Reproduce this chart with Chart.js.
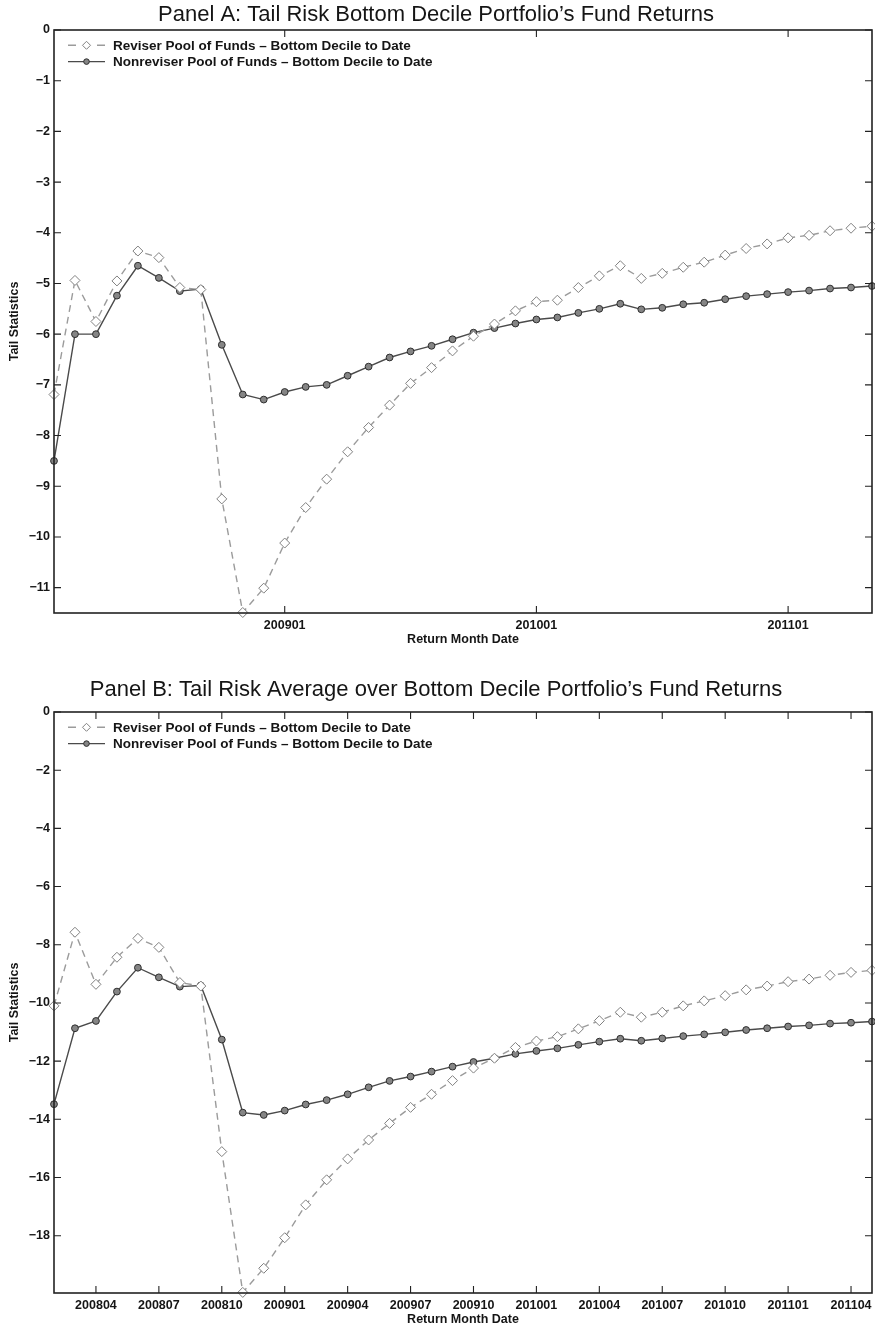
<!DOCTYPE html>
<html lang="en">
<head>
<meta charset="UTF-8">
<title>Tail Risk Bottom Decile Portfolio's Fund Returns</title>
<script src="https://cdn.jsdelivr.net/npm/chart.js"></script>
<style>
    body { margin: 0; background: #fff; overflow: hidden; }
    .panel { position: absolute; left: 0; width: 875px; }
    #panelA { top: 0; height: 655px; }
    #panelB { top: 663px; height: 672px; }
</style>
</head>
<body>

<div class="panel" id="panelA"><canvas id="chartA"></canvas></div>
<div class="panel" id="panelB"><canvas id="chartB"></canvas></div>

<script>
// return months (x categories)
const months = [
    '200802', '200803', '200804', '200805', '200806', '200807', '200808', '200809', '200810', '200811', '200812',
    '200901', '200902', '200903', '200904', '200905', '200906', '200907', '200908', '200909', '200910', '200911', '200912',
    '201001', '201002', '201003', '201004', '201005', '201006', '201007', '201008', '201009', '201010', '201011', '201012',
    '201101', '201102', '201103', '201104', '201105'
];

// Panel A: tail risk of bottom decile portfolio
const reviserA = [-7.19, -4.94, -5.75, -4.95, -4.36, -4.49, -5.08, -5.12, -9.25, -11.49, -11.01,
    -10.12, -9.42, -8.86, -8.32, -7.84, -7.40, -6.97, -6.66, -6.33, -6.04, -5.80, -5.54,
    -5.36, -5.33, -5.08, -4.85, -4.65, -4.90, -4.80, -4.68, -4.58, -4.44, -4.31, -4.22,
    -4.10, -4.05, -3.96, -3.91, -3.87];
const nonreviserA = [-8.50, -6.00, -6.00, -5.24, -4.65, -4.89, -5.15, -5.11, -6.21, -7.19, -7.29,
    -7.14, -7.04, -7.00, -6.82, -6.64, -6.46, -6.34, -6.23, -6.10, -5.97, -5.88, -5.79,
    -5.71, -5.67, -5.58, -5.50, -5.40, -5.51, -5.48, -5.41, -5.38, -5.31, -5.25, -5.21,
    -5.17, -5.14, -5.10, -5.08, -5.05];

// Panel B: tail risk average over bottom decile
const reviserB = [-10.10, -7.57, -9.36, -8.43, -7.78, -8.09, -9.30, -9.42, -15.11, -19.95, -19.12,
    -18.07, -16.94, -16.08, -15.36, -14.71, -14.14, -13.59, -13.14, -12.67, -12.24, -11.90, -11.53,
    -11.31, -11.16, -10.89, -10.61, -10.32, -10.49, -10.32, -10.10, -9.93, -9.75, -9.55, -9.42,
    -9.27, -9.18, -9.05, -8.95, -8.88];
const nonreviserB = [-13.48, -10.87, -10.62, -9.61, -8.79, -9.12, -9.44, -9.40, -11.26, -13.77, -13.85,
    -13.70, -13.49, -13.34, -13.14, -12.90, -12.68, -12.53, -12.36, -12.19, -12.03, -11.90, -11.75,
    -11.65, -11.56, -11.44, -11.33, -11.23, -11.30, -11.22, -11.14, -11.08, -11.01, -10.93, -10.87,
    -10.81, -10.77, -10.71, -10.68, -10.64];

// tick labels
const xTicksA = ['200901', '201001', '201101'];
const xTicksB = ['200804', '200807', '200810', '200901', '200904', '200907', '200910',
    '201001', '201004', '201007', '201010', '201101', '201104'];
const yTicksA = [0, -1, -2, -3, -4, -5, -6, -7, -8, -9, -10, -11];
const yTicksB = [0, -2, -4, -6, -8, -10, -12, -14, -16, -18];

const FONT = '"Liberation Sans", Arial, Helvetica, sans-serif';
const INK = '#151515';

// box round the plot with inward ticks on all four sides (matlab look)
const frameAndTicks = {
    id: 'frameAndTicks',
    afterDraw(chart) {
        const { ctx, chartArea: a, scales: { x, y } } = chart;
        ctx.save();
        ctx.strokeStyle = '#222';
        ctx.lineWidth = 1.6;
        ctx.strokeRect(a.left, a.top, a.right - a.left, a.bottom - a.top);
        ctx.lineWidth = 1.1;
        ctx.beginPath();
        x.ticks.forEach(t => {
            const px = x.getPixelForValue(t.value);
            ctx.moveTo(px, a.bottom); ctx.lineTo(px, a.bottom - 7);
            ctx.moveTo(px, a.top); ctx.lineTo(px, a.top + 7);
        });
        y.ticks.forEach(t => {
            const py = y.getPixelForValue(t.value);
            ctx.moveTo(a.left, py); ctx.lineTo(a.left + 7, py);
            ctx.moveTo(a.right, py); ctx.lineTo(a.right - 7, py);
        });
        ctx.stroke();
        ctx.restore();
    }
};

// legend inside the plot, top left, line sample + marker
const insideLegend = {
    id: 'insideLegend',
    afterDraw(chart) {
        const { ctx, chartArea: a } = chart;
        ctx.save();
        ctx.font = 'bold 13.5px ' + FONT;
        ctx.textBaseline = 'middle';
        chart.data.datasets.forEach((ds, i) => {
            const yy = a.top + 15.3 + i * 16.3;
            const x0 = a.left + 14, x1 = a.left + 51, xm = (x0 + x1) / 2;
            ctx.strokeStyle = ds.borderColor;
            ctx.lineWidth = ds.borderWidth;
            ctx.beginPath();
            if (ds.borderDash) {
                ctx.moveTo(x0, yy); ctx.lineTo(x0 + 8, yy);
                ctx.moveTo(x1 - 8, yy); ctx.lineTo(x1, yy);
            } else {
                ctx.moveTo(x0, yy); ctx.lineTo(x1, yy);
            }
            ctx.stroke();
            ctx.fillStyle = ds.pointBackgroundColor;
            ctx.strokeStyle = ds.pointBorderColor;
            ctx.lineWidth = ds.pointBorderWidth;
            ctx.beginPath();
            if (ds.pointStyle === 'rectRot') {
                ctx.moveTo(xm, yy - 4); ctx.lineTo(xm + 4, yy); ctx.lineTo(xm, yy + 4); ctx.lineTo(xm - 4, yy); ctx.closePath();
            } else {
                ctx.arc(xm, yy, 2.8, 0, Math.PI * 2);
            }
            ctx.fill();
            ctx.stroke();
            ctx.fillStyle = INK;
            ctx.fillText(ds.label, a.left + 59, yy + 0.5);
        });
        ctx.restore();
    }
};

function buildConfig(p) {
    return {
        type: 'line',
        data: {
            labels: months,
            datasets: [
                {
                    label: 'Reviser Pool of Funds \u2013 Bottom Decile to Date',
                    data: p.reviser,
                    borderColor: '#9b9b9b',
                    borderWidth: 1.4,
                    borderDash: [7, 5],
                    tension: 0,
                    pointStyle: 'rectRot',
                    pointRadius: 5,
                    pointBackgroundColor: '#ffffff',
                    pointBorderColor: '#808080',
                    pointBorderWidth: 1,
                    clip: 8
                },
                {
                    label: 'Nonreviser Pool of Funds \u2013 Bottom Decile to Date',
                    data: p.nonreviser,
                    borderColor: '#4a4a4a',
                    borderWidth: 1.4,
                    tension: 0,
                    pointStyle: 'circle',
                    pointRadius: 3.4,
                    pointBackgroundColor: '#858585',
                    pointBorderColor: '#2e2e2e',
                    pointBorderWidth: 1,
                    clip: 8
                }
            ]
        },
        options: {
            responsive: true,
            maintainAspectRatio: false,
            animation: false,
            events: [],
            layout: { autoPadding: false, padding: { left: 0, right: 3, top: 0, bottom: 0 } },
            plugins: {
                legend: { display: false },
                tooltip: { enabled: false },
                title: {
                    display: true,
                    text: p.title,
                    color: INK,
                    font: { family: FONT, size: 22, weight: 'normal' },
                    padding: { top: p.titleTop, bottom: p.titleBottom }
                }
            },
            scales: {
                x: {
                    offset: false,
                    grid: { display: false, drawTicks: false },
                    border: { display: false },
                    ticks: {
                        autoSkip: false, maxRotation: 0, padding: 5, color: INK,
                        font: { family: FONT, size: 12.5, weight: 'bold' }
                    },
                    afterBuildTicks: s => { s.ticks = s.ticks.filter(t => p.xTicks.includes(months[t.value])); },
                    afterFit: s => { s.height = 42; s.paddingLeft = 0; s.paddingRight = 0; },
                    title: {
                        display: true, text: 'Return Month Date', color: INK,
                        font: { family: FONT, size: 12.5, weight: 'bold' },
                        padding: { top: 0, bottom: 7.5 }
                    }
                },
                y: {
                    min: p.yMin,
                    max: 0,
                    grid: { display: false, drawTicks: false },
                    border: { display: false },
                    afterBuildTicks: s => { s.ticks = p.yTicks.map(v => ({ value: v })); },
                    afterFit: s => { s.width = 54; },
                    ticks: {
                        padding: 4, color: INK,
                        font: { family: FONT, size: 12.5, weight: 'bold' },
                        callback: v => String(v).replace('-', '\u2212')
                    },
                    title: {
                        display: true, text: 'Tail Statistics', color: INK,
                        font: { family: FONT, size: 12.5, weight: 'bold' },
                        padding: { top: 7.5, bottom: 0 }
                    }
                }
            }
        },
        plugins: [frameAndTicks, insideLegend]
    };
}

new Chart(document.getElementById('chartA'), buildConfig({
    title: 'Panel A: Tail Risk Bottom Decile Portfolio\u2019s Fund Returns',
    reviser: reviserA, nonreviser: nonreviserA,
    xTicks: xTicksA, yTicks: yTicksA, yMin: -11.5,
    titleTop: 1.5, titleBottom: 2.1
}));

new Chart(document.getElementById('chartB'), buildConfig({
    title: 'Panel B: Tail Risk Average over Bottom Decile Portfolio\u2019s Fund Returns',
    reviser: reviserB, nonreviser: nonreviserB,
    xTicks: xTicksB, yTicks: yTicksB, yMin: -19.97,
    titleTop: 13.8, titleBottom: 8.8
}));
</script>
</body>
</html>
